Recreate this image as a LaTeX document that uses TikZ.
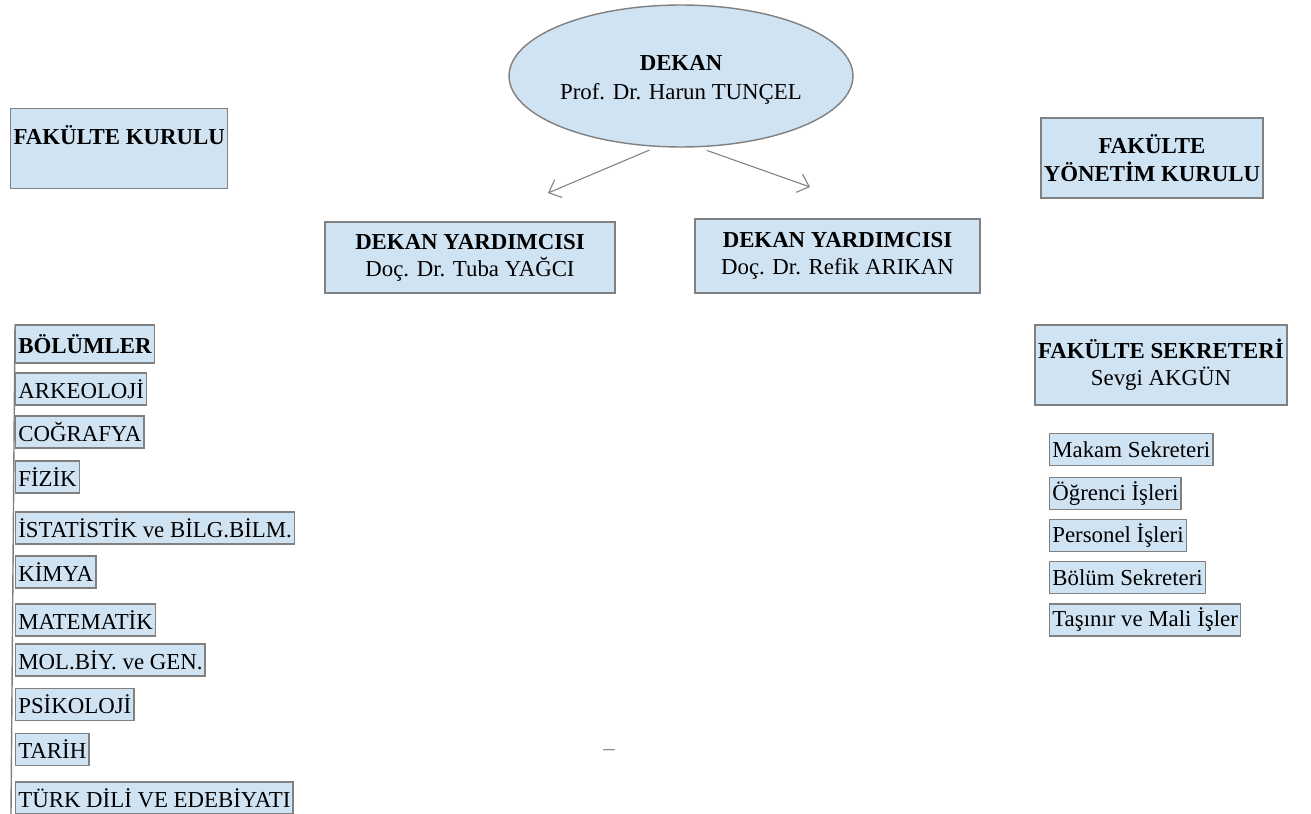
\documentclass[tikz,border=0pt]{standalone}
\usepackage{fontspec}
\setmainfont{Liberation Serif}
\usetikzlibrary{shapes.geometric,arrows.meta}
\definecolor{boxblue}{RGB}{207,227,243}
\definecolor{boxline}{RGB}{128,128,128}
\tikzset{
  unit/.style={draw=boxline, fill=boxblue, line width=0.8pt, inner sep=0pt,
    align=center, font=\fontsize{13}{15.5}\selectfont},
  item/.style={unit, anchor=west, inner xsep=1.5pt, minimum height=0.64cm},
  arr/.style={draw=boxline, line width=0.6pt, -{Straight Barb[length=6pt,width=11pt]}},
}
\begin{document}
\begin{tikzpicture}[x=0.02cm, y=-0.02cm]
\useasboundingbox (0,0) rectangle (1311,814);
% Dean
\node[unit, ellipse, minimum width=6.88cm, minimum height=2.84cm, text height=26.8pt,
    text depth=0pt] (dekan) at (681,76)
    {\textbf{DEKAN}\\[1pt]Prof. Dr. Harun TUNÇEL};
% Boards
\node[unit, anchor=north west, minimum width=4.34cm, text height=9pt, text depth=13.6pt,
    inner ysep=11.4pt] (fkurul) at (10,108) {\textbf{FAKÜLTE KURULU}};
\node[unit, minimum width=4.44cm, minimum height=1.6cm] (fyk) at (1152,158)
    {\textbf{FAKÜLTE}\\\textbf{YÖNETİM KURULU}};
% Vice deans
\node[unit, minimum width=5.8cm, minimum height=1.42cm] (yard1) at (470,257.5)
    {\textbf{DEKAN YARDIMCISI}\\Doç. Dr. Tuba YAĞCI};
\node[unit, minimum width=5.7cm, minimum height=1.48cm] (yard2) at (837.5,256)
    {\textbf{DEKAN YARDIMCISI}\\Doç. Dr. Refik ARIKAN};
\coordinate (a1) at (548,193);
\coordinate (a2) at (810,187);
\draw[arr] ([yshift=-2pt]dekan.246) -- (a1);
\draw[arr] ([yshift=-2pt]dekan.290) -- (a2);
% Secretary
\node[unit, minimum width=5.04cm, minimum height=1.6cm] (fsek) at (1161,365)
    {\textbf{FAKÜLTE SEKRETERİ}\\Sevgi AKGÜN};
\foreach \n/\y/\t in {mak/449.5/Makam Sekreteri, ogr/493.5/Öğrenci İşleri,
    per/535.5/Personel İşleri, bsk/577.5/Bölüm Sekreteri, tas/620/Taşınır ve Mali İşler}
  \node[item] (\n) at (1049,\y) {\t};
% Departments
\node[item, minimum height=0.76cm] (bol) at (15,344) {\textbf{BÖLÜMLER}};
\foreach \n/\y/\t in {ark/389/ARKEOLOJİ, cog/432/COĞRAFYA, fiz/477/FİZİK,
    ist/528/İSTATİSTİK ve BİLG.BİLM., kim/572/KİMYA, mat/620/MATEMATİK,
    mol/660/MOL.BİY. ve GEN., psi/704.5/PSİKOLOJİ, tar/749.5/TARİH,
    tur/798/TÜRK DİLİ VE EDEBİYATI}
  \node[item] (\n) at (15,\y) {\t};
\coordinate (lbot) at (11,814);
\draw[boxline, line width=0.8pt] (bol.north west) -- (lbot);
\node[text=boxline, font=\fontsize{13}{15}\selectfont] (dash) at (609,753) {–};
\end{tikzpicture}
\end{document}
